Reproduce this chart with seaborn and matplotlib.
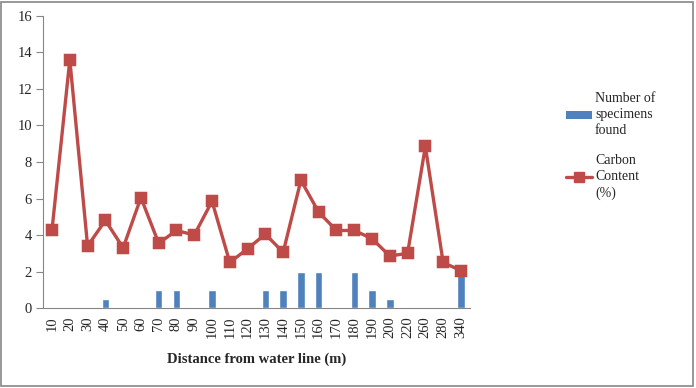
import numpy as np
import pandas as pd
import matplotlib
matplotlib.use("Agg")
import matplotlib.pyplot as plt
import seaborn as sns
from matplotlib.patches import Patch, Rectangle
from matplotlib.lines import Line2D

distances = ["10", "20", "30", "40", "50", "60", "70", "80", "90", "100", "110", "120",
             "130", "140", "150", "160", "170", "180", "190", "200", "220", "260", "280", "340"]
specimens = [0, 0, 0, 0.5, 0, 0, 1, 1, 0, 1, 0, 0,
             1, 1, 2, 2, 0, 2, 1, 0.5, 0, 0, 0, 2]
carbon = [4.3, 13.6, 3.4, 4.8, 3.3, 6.05, 3.55, 4.25, 4.0, 5.85, 2.5, 3.25,
          4.05, 3.05, 7.0, 5.25, 4.25, 4.25, 3.8, 2.85, 3.0, 8.85, 2.5, 2.05]
yticks = [0, 2, 4, 6, 8, 10, 12, 14, 16]

bar_color = "#4F81BD"
line_color = "#BE4B48"

sns.set_theme(style="white")
plt.rcParams["font.family"] = ["Liberation Serif", "DejaVu Serif"]

df = pd.DataFrame({"distance": distances, "specimens": specimens, "carbon": carbon})

fig = plt.figure(figsize=(6.96, 3.88), dpi=100)
ax = fig.add_axes([0.062, 0.206, 0.613, 0.753])

sns.barplot(data=df, x="distance", y="specimens", order=distances, color=bar_color,
            width=0.42, saturation=1, ax=ax)
sns.pointplot(data=df, x="distance", y="carbon", order=distances, color=line_color,
              markers="s", markersize=7, linewidth=2.4, ax=ax)

n = len(distances)
ax.set_xlim(-0.5, n - 0.5)
ax.set_ylim(0, 16)
ax.set_yticks(yticks)
ax.set_yticklabels([str(v) for v in yticks], fontsize=10.5)
ax.set_xticks(range(n))
ax.set_xticklabels(distances, rotation=90, fontsize=10.5)
ax.set_xticks(np.arange(-0.5, n, 1), minor=True)
ax.tick_params(axis="x", which="major", length=0, pad=6)
ax.tick_params(axis="x", which="minor", length=5, color="#868686", width=0.8, direction="out")
ax.tick_params(axis="y", length=5, color="#868686", width=0.8, direction="out", pad=3, left=True)
ax.set_xlabel("Distance from water line (m)", fontsize=10.5, fontweight="bold", labelpad=10)
ax.set_ylabel("")
sns.despine(ax=ax)
for s in ["left", "bottom"]:
    ax.spines[s].set_color("#868686")
    ax.spines[s].set_linewidth(0.8)
ax.grid(False)

handles = [Patch(facecolor=bar_color, edgecolor="none"),
           Line2D([0], [0], color=line_color, lw=2.4, marker="s", markersize=7)]
labels = ["Number of\nspecimens\nfound", "Carbon\nContent\n(%)"]
leg = fig.legend(handles, labels, loc="upper left", bbox_to_anchor=(0.803, 0.78),
                 frameon=False, fontsize=10, handlelength=1.9, handleheight=0.5,
                 labelspacing=1.2, handletextpad=0.2, borderpad=0)
for t in leg.get_texts():
    t.set_linespacing(1.3)

fig.patches.append(Rectangle((0.002, 0.004), 0.994, 0.99, transform=fig.transFigure,
                             fill=False, edgecolor="#868686", linewidth=1.2))

fig.savefig("out.png", dpi=100)
